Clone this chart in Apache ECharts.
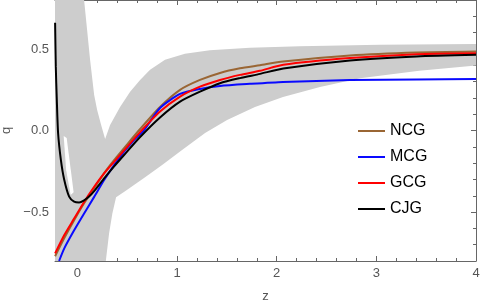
<!DOCTYPE html>
<html>
<head>
<meta charset="utf-8">
<script src="https://cdn.jsdelivr.net/npm/echarts@6/dist/echarts.min.js"></script>
<style>html,body{margin:0;padding:0;background:#fff;}#c{width:480px;height:308px;}</style>
</head>
<body>
<div id="c"></div>
<script>
// ---- data ----
const seriesNames = ['NCG', 'MCG', 'GCG', 'CJG'];
const seriesColors = ['#9a6634', '#0a0aff', '#ff0000', '#000000'];

const ncg = [[-0.224,-0.771],[-0.133,-0.661],[-0.033,-0.55],[0.067,-0.446],[0.168,-0.354],[0.268,-0.261],[0.368,-0.181],[0.468,-0.108],[0.629,0.009],[0.829,0.144],[1.03,0.249],[1.23,0.31],[1.431,0.353],[1.631,0.381],[1.832,0.4],[2.063,0.423],[2.735,0.46],[3.407,0.478],[4.0,0.484]];
const mcg = [[-0.184,-0.8],[-0.133,-0.724],[-0.033,-0.612],[0.067,-0.509],[0.168,-0.407],[0.268,-0.304],[0.368,-0.212],[0.468,-0.13],[0.569,-0.058],[0.669,0.003],[0.829,0.138],[1.03,0.224],[1.23,0.255],[1.431,0.273],[1.731,0.286],[2.063,0.298],[2.735,0.309],[3.407,0.313],[4.0,0.315]];
const gcg = [[-0.224,-0.753],[-0.133,-0.642],[-0.033,-0.54],[0.067,-0.438],[0.168,-0.345],[0.268,-0.263],[0.368,-0.192],[0.468,-0.122],[0.629,-0.01],[0.829,0.116],[1.03,0.208],[1.23,0.269],[1.431,0.31],[1.631,0.341],[1.832,0.366],[2.066,0.403],[2.735,0.444],[3.404,0.468],[4.0,0.474]];
const cjg = [[-0.224,0.66],[-0.217,0.39],[-0.207,0.19],[-0.194,-0.015],[-0.166,-0.18],[-0.133,-0.3],[-0.083,-0.405],[-0.033,-0.436],[0.017,-0.441],[0.067,-0.428],[0.117,-0.405],[0.168,-0.372],[0.268,-0.294],[0.368,-0.22],[0.468,-0.15],[0.629,-0.04],[0.829,0.08],[1.03,0.177],[1.23,0.238],[1.431,0.29],[1.631,0.321],[1.832,0.347],[2.066,0.38],[2.735,0.429],[3.404,0.454],[4.0,0.464]];

// confidence band outline (z, q)
const bandLobeEdge = [[-0.225,0.8],[0.067,0.8],[0.097,0.618],[0.127,0.433],[0.168,0.218],[0.198,0.126],[0.238,0.034],[0.278,-0.052]];
const bandUpper = [[0.328,0.034],[0.428,0.144],[0.529,0.237],[0.629,0.31],[0.729,0.372],[0.879,0.433],[1.079,0.47],[1.329,0.492],[1.731,0.507],[2.232,0.516],[3.034,0.526],[4.0,0.53]];
const bandLower = [[4.0,0.398],[3.43,0.366],[2.836,0.32],[2.434,0.267],[2.063,0.206],[1.782,0.144],[1.502,0.065],[1.281,-0.015],[1.05,-0.12],[0.85,-0.212],[0.679,-0.286],[0.478,-0.372],[0.388,-0.409],[0.351,-0.507],[0.318,-0.63],[0.285,-0.8],[-0.225,-0.8]];
const bandHole = [[-0.138,-0.034],[-0.108,-0.046],[-0.073,-0.212],[-0.038,-0.378],[-0.068,-0.396],[-0.113,-0.243]];

const xMajor = [0, 1, 2, 3, 4];
const xMinor = [-0.2,0.2,0.4,0.6,0.8,1.2,1.4,1.6,1.8,2.2,2.4,2.6,2.8,3.2,3.4,3.6,3.8];
const yMajor = [-0.5, 0, 0.5];
const yMinor = [-0.7,-0.6,-0.4,-0.3,-0.2,-0.1,0.1,0.2,0.3,0.4,0.6,0.7];
const xRange = [-0.225, 4];
const yRange = [-0.8, 0.8];

// ---- chart ----
const FONT = "'Liberation Sans', Arial, sans-serif";
const AX = '#666';
function fmtY(v) { if (v === 0) return '0.0'; return (v < 0 ? '\u2212' : '') + Math.abs(v).toFixed(1); }
function mkAxis(kind, pos, ticks, len, showLine, labels, extra) {
  const a = {
    type: 'value', position: pos, min: (kind === 'x' ? xRange : yRange)[0], max: (kind === 'x' ? xRange : yRange)[1],
    splitLine: { show: false },
    axisLine: { show: showLine, onZero: false, lineStyle: { color: AX, width: 1 } },
    axisTick: { show: true, inside: true, length: len, customValues: ticks, lineStyle: { color: AX, width: 1 } },
    axisLabel: labels ? { show: true, customValues: ticks, color: '#555', fontSize: 13, fontFamily: FONT, margin: 6,
      formatter: kind === 'y' ? fmtY : (v) => String(v) } : { show: false }
  };
  return Object.assign(a, extra || {});
}

const chart = echarts.init(document.getElementById('c'), null, { renderer: 'canvas' });

const bandSeries = {
  type: 'custom', name: 'band', xAxisIndex: 0, yAxisIndex: 0, z: 1, silent: true,
  data: [[0, 0]],
  renderItem: function (params, api) {
    const outline = bandLobeEdge.concat(bandUpper, bandLower).map(p => api.coord(p));
    const hole = bandHole.map(p => api.coord(p));
    return { type: 'group', children: [
      { type: 'polygon', shape: { points: outline, smooth: 0 }, style: { fill: '#cdcdcd', stroke: null } },
      { type: 'polygon', shape: { points: hole }, style: { fill: '#ffffff', stroke: null } }
    ] };
  }
};

const lineData = [ncg, mcg, gcg, cjg];
const lineSeries = seriesNames.map((n, i) => ({
  type: 'line', name: n, data: lineData[i], xAxisIndex: 0, yAxisIndex: 0,
  smooth: 0.22, showSymbol: false, symbol: 'none', clip: true, z: 5 + i,
  lineStyle: { color: seriesColors[i], width: 2 }, itemStyle: { color: seriesColors[i] }
}));

chart.setOption({
  animation: false,
  backgroundColor: '#fff',
  grid: { left: 55, top: 0, right: 4, bottom: 47, outerBoundsMode: 'none' },
  xAxis: [
    mkAxis('x', 'bottom', xMajor, 5, true, true, { name: 'z', nameLocation: 'middle', nameGap: 29, nameTextStyle: { color: '#555', fontSize: 13, fontFamily: FONT } }),
    mkAxis('x', 'bottom', xMinor, 3, false, false),
    mkAxis('x', 'top', xMajor, 5, true, false),
    mkAxis('x', 'top', xMinor, 3, false, false)
  ],
  yAxis: [
    mkAxis('y', 'left', yMajor, 5, true, true, { name: 'q', nameLocation: 'middle', nameGap: 41, nameTextStyle: { color: '#555', fontSize: 13, fontFamily: FONT } }),
    mkAxis('y', 'left', yMinor, 3, false, false),
    mkAxis('y', 'right', yMajor, 5, true, false),
    mkAxis('y', 'right', yMinor, 3, false, false)
  ],
  legend: {
    data: seriesNames, orient: 'vertical', left: 358, top: 123, padding: 0,
    itemWidth: 27, itemHeight: 2, itemGap: 10, icon: 'rect',
    textStyle: { color: '#000', fontSize: 16, lineHeight: 16, fontFamily: FONT }
  },
  series: [bandSeries].concat(lineSeries)
});
</script>
</body>
</html>
